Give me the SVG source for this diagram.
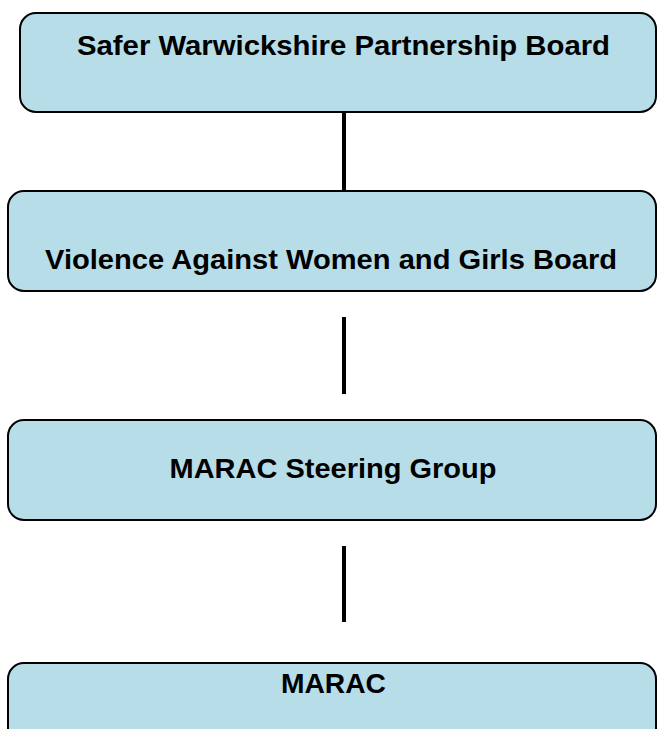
<svg xmlns="http://www.w3.org/2000/svg" width="657" height="729" viewBox="0 0 657 729">
  <style>
    .box { fill: #b7dde8; stroke: #000; stroke-width: 2; }
    .label { font-family: "Liberation Sans", Arial, sans-serif; font-weight: bold; font-size: 28px; fill: #000; text-anchor: middle; }
    .link { stroke: #000; stroke-width: 4; fill: none; }
  </style>
  <rect width="657" height="729" fill="#fff"/>
  <g id="connectors">
    <line class="link" x1="344" y1="112" x2="344" y2="191"/>
    <line class="link" x1="344" y1="317" x2="344" y2="394"/>
    <line class="link" x1="344" y1="546" x2="344" y2="622"/>
  </g>
  <g id="node-safer-warwickshire">
    <rect class="box" x="20" y="13" width="636" height="99" rx="16"/>
    <text class="label" x="343.5" y="54.5" textLength="533" lengthAdjust="spacingAndGlyphs">Safer Warwickshire Partnership Board</text>
  </g>
  <g id="node-vawg-board">
    <rect class="box" x="8" y="191" width="648" height="100" rx="16"/>
    <text class="label" x="331" y="268.5" textLength="572" lengthAdjust="spacingAndGlyphs">Violence Against Women and Girls Board</text>
  </g>
  <g id="node-marac-steering">
    <rect class="box" x="8" y="420" width="648" height="100" rx="16"/>
    <text class="label" x="333" y="478" textLength="327" lengthAdjust="spacingAndGlyphs">MARAC Steering Group</text>
  </g>
  <g id="node-marac">
    <rect class="box" x="8" y="663" width="648" height="100" rx="16"/>
    <text class="label" x="333.5" y="692.5" textLength="105" lengthAdjust="spacingAndGlyphs">MARAC</text>
  </g>
</svg>
